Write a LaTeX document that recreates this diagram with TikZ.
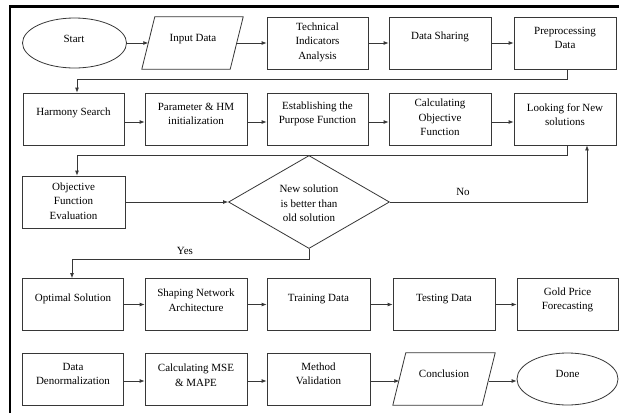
\documentclass[tikz,border=0pt]{standalone}
\usepackage{fontspec}
\setmainfont{Liberation Serif}
\usetikzlibrary{shapes.geometric,arrows.meta}
\definecolor{linec}{RGB}{55,55,55}
\begin{document}
\begin{tikzpicture}[x=1pt,y=-1pt,
  box/.style={draw=linec, line width=0.8pt, minimum width=101pt, minimum height=52pt, inner sep=0pt},
  oval/.style={box, ellipse, minimum width=104pt, minimum height=50pt},
  parahold/.style={draw=none, minimum width=88pt, minimum height=52pt, inner sep=0pt},
  paraline/.style={draw=linec, line width=0.8pt},
  decide/.style={box, diamond, minimum width=161pt, minimum height=93pt},
  txt/.style={font=\fontsize{11pt}{14.5pt}\selectfont, align=center, inner sep=0pt, text=black},
  conn/.style={draw=linec, line width=0.8pt},
  arr/.style={conn, -{Latex[length=5pt,width=4pt]}}
]
\useasboundingbox (0,0) rectangle (619,413);
\fill[white] (0,0) rectangle (619,413);
% frame
\draw[line width=2.6pt, black] (10,413) -- (10,6.5) -- (619,6.5);

% Row 1
\node[oval] (start) at (74.5,43) {};
\node[parahold] (input) at (192.5,43) {};
\draw[paraline] ([xshift=6.5pt]input.north west) -- ([xshift=6.5pt]input.north east)
  -- ([xshift=-6.5pt]input.south east) -- ([xshift=-6.5pt]input.south west) -- cycle;
\node[box] (tech) at (317.5,43) {};
\node[box, minimum width=102pt] (share) at (440,43) {};
\node[box, minimum width=102pt] (prep) at (565,43) {};
\node[txt] (tstart) at (74,39) {Start};
\node[txt] (tinput) at (193,39) {Input Data};
\node[txt] (ttech) at (317.5,42) {Technical\\Indicators\\Analysis};
\node[txt] (tshare) at (440,37) {Data Sharing};
\node[txt] (tprep) at (565,38) {Preprocessing\\Data};

% Row 2
\node[box] (harm) at (73.5,119) {};
\node[box, minimum width=102pt] (param) at (196,119) {};
\node[box] (estab) at (317.5,119) {};
\node[box, minimum width=102pt] (calc) at (440,119) {};
\node[box, minimum width=102pt] (look) at (565,119) {};
\node[txt] (tharm) at (73.5,113) {Harmony Search};
\node[txt] (tparam) at (196,114) {Parameter \& HM\\initialization};
\node[txt] (testab) at (317.5,114) {Establishing the\\Purpose Function};
\node[txt] (tcalc) at (440,117.5) {Calculating\\Objective\\Function};
\node[txt] (tlook) at (565,114.5) {Looking for New\\solutions};

% Row 3
\node[box, minimum width=103pt] (objev) at (73.5,202) {};
\node[decide] (dec) at (309,202) {};
\node[txt] (tobjev) at (73.5,201) {Objective\\Function\\Evaluation};
\node[txt] (tdec) at (309,203.5) {New solution\\is better than\\old solution};

% Row 4
\node[box] (opt) at (73,304.5) {};
\node[box, minimum width=102pt] (shape) at (196,304.5) {};
\node[box, minimum width=103pt] (train) at (318.5,304.5) {};
\node[box, minimum width=102pt] (test) at (444,304.5) {};
\node[box] (gold) at (567.5,304.5) {};
\node[txt] (topt) at (73,299) {Optimal Solution};
\node[txt] (tshape) at (196,300) {Shaping Network\\Architecture};
\node[txt] (ttrain) at (318.5,299) {Training Data};
\node[txt] (ttest) at (444,299) {Testing Data};
\node[txt] (tgold) at (567.5,300) {Gold Price\\Forecasting};

% Row 5
\node[box] (denorm) at (73,379) {};
\node[box, minimum width=102pt] (mse) at (196,379) {};
\node[box, minimum width=103pt] (meth) at (318.5,379) {};
\node[parahold, minimum width=89pt] (concl) at (444,379) {};
\draw[paraline] ([xshift=6.5pt]concl.north west) -- ([xshift=6.5pt]concl.north east)
  -- ([xshift=-6.5pt]concl.south east) -- ([xshift=-6.5pt]concl.south west) -- cycle;
\node[oval, minimum width=101pt, minimum height=52pt] (done) at (567.5,379) {};
\node[txt] (tdenorm) at (73,374) {Data\\Denormalization};
\node[txt] (tmse) at (196,375) {Calculating MSE\\\& MAPE};
\node[txt] (tmeth) at (318.5,374) {Method\\Validation};
\node[txt] (tconcl) at (444,374) {Conclusion};
\node[txt] (tdone) at (567.5,374) {Done};

% Row 1 arrows
\draw[arr] (start.east) -- (input.west);
\draw[arr] (input.east) -- (tech.west);
\draw[arr] (tech.east) -- (share.west);
\draw[arr] (share.east) -- (prep.west);
% to row 2
\coordinate (c1) at (567,79);
\coordinate (c2) at (77,79);
\draw[arr] (prep.south -| c1) -- (c1) -- (c2) -- (harm.north -| c2);
% Row 2 arrows
\draw[arr] ([yshift=-3pt]harm.east) -- ([yshift=-3pt]param.west);
\draw[arr] ([yshift=-3pt]param.east) -- ([yshift=-3pt]estab.west);
\draw[arr] ([yshift=-3pt]estab.east) -- ([yshift=-3pt]calc.west);
\draw[arr] ([yshift=-3pt]calc.east) -- ([yshift=-3pt]look.west);
% to row 3
\coordinate (c3) at (567,155);
\coordinate (c4) at (77,155);
\draw[arr] (look.south -| c3) -- (c3) -- (c4) -- (objev.north -| c4);
\draw[arr] (objev.east) -- (dec.west);
% No branch
\coordinate (c5) at (587,202);
\draw[arr] (dec.east) -- (c5) -- (look.south -| c5);
\node[txt] (lno) at (463,192) {No};
% Yes branch
\coordinate (c6) at (309,259);
\coordinate (c7) at (72,259);
\draw[arr] (dec.south) -- (c6) -- (c7) -- (opt.north -| c7);
\node[txt] (lyes) at (185,251) {Yes};
% Row 4 arrows
\draw[arr] (opt.east) -- (shape.west);
\draw[arr] (shape.east) -- (train.west);
\draw[arr] (train.east) -- (test.west);
\draw[arr] (test.east) -- (gold.west);
% Row 5 arrows
\draw[arr] ([yshift=-2pt]denorm.east) -- ([yshift=-2pt]mse.west);
\draw[arr] ([yshift=-2pt]mse.east) -- ([yshift=-2pt]meth.west);
\draw[arr] ([yshift=-2pt]meth.east) -- ([yshift=-2pt]concl.west);
\draw[arr] ([yshift=-2pt]concl.east) -- ([yshift=-2pt]done.west);
\end{tikzpicture}
\end{document}
